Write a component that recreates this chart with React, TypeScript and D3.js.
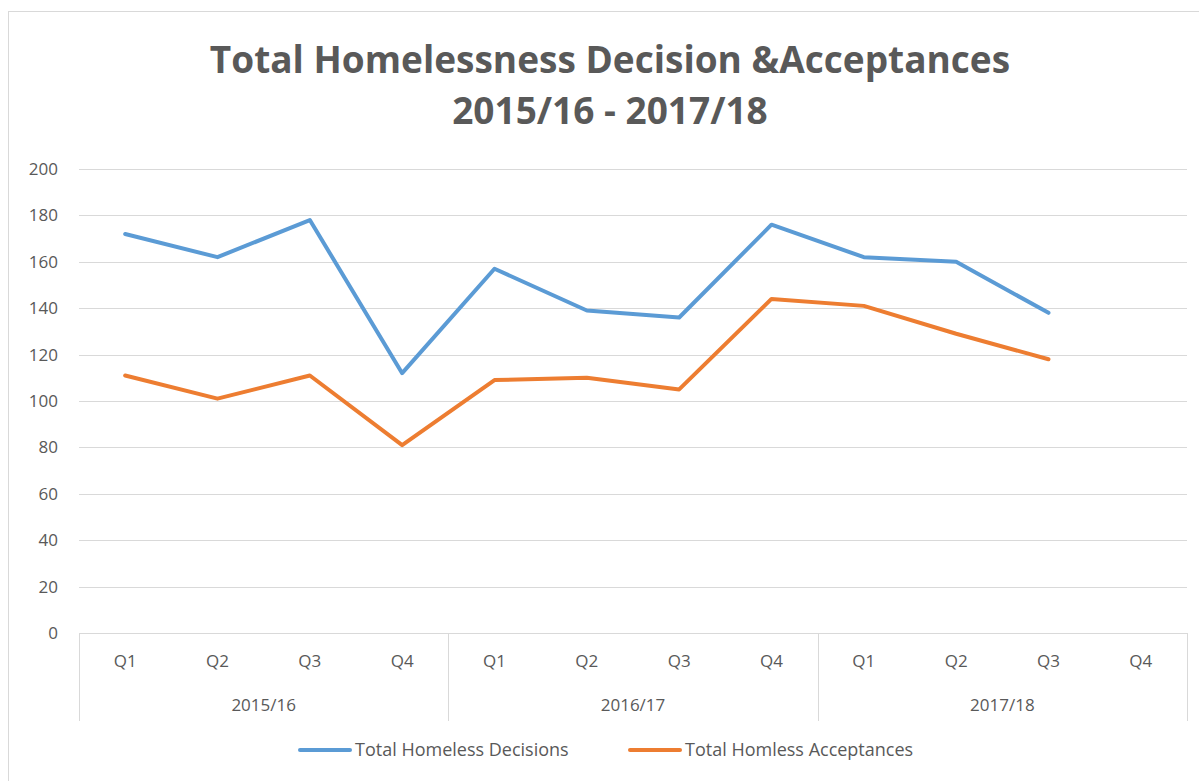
import * as d3 from "d3";

const years = ["2015/16", "2016/17", "2017/18"];
const quarters = ["Q1", "Q2", "Q3", "Q4"];
const decisions: (number | null)[] = [172, 162, 178, 112, 157, 139, 136, 176, 162, 160, 138, null];
const acceptances: (number | null)[] = [111, 101, 111, 81, 109, 110, 105, 144, 141, 129, 118, null];
const yTicks = [0, 20, 40, 60, 80, 100, 120, 140, 160, 180, 200];

const seriesNames = ["Total Homeless Decisions", "Total Homless Acceptances"];
const seriesColors = ["#5B9BD5", "#ED7D31"];

const W = 1199;
const H = 781;
const font = "'Open Sans', 'Noto Sans', sans-serif";
const textColor = "#595959";

export default function App() {
  const margin = { top: 169, right: 12, bottom: 148, left: 79 };

  // one key per quarter, e.g. "2015/16|Q1"
  const cats = years.flatMap((y) => quarters.map((q) => `${y}|${q}`));

  const x = d3
    .scaleBand<string>()
    .domain(cats)
    .range([margin.left, W - margin.right]);

  const y = d3
    .scaleLinear()
    .domain([0, 200])
    .range([H - margin.bottom, margin.top]);

  const line = d3
    .line<number | null>()
    .defined((d) => d !== null)
    .x((_, i) => (x(cats[i]) ?? 0) + x.bandwidth() / 2)
    .y((d) => y(d as number));

  const y0 = y(0);
  const yearW = x.bandwidth() * quarters.length;

  return (
    <svg
      width={W}
      height={H}
      style={{ position: "absolute", left: 0, top: 0, background: "#fff" }}
    >
      {/* chart border */}
      <rect x={8.5} y={11.5} width={W} height={H} fill="none" stroke="#d9d9d9" />

      <text
        x={610}
        y={73}
        textAnchor="middle"
        fontFamily={font}
        fontWeight="bold"
        fontSize={37}
        fill={textColor}
      >
        Total Homelessness Decision &amp;Acceptances
      </text>
      <text
        x={610}
        y={124}
        textAnchor="middle"
        fontFamily={font}
        fontWeight="bold"
        fontSize={37}
        fill={textColor}
      >
        2015/16 - 2017/18
      </text>

      {/* gridlines + y labels */}
      {yTicks.map((t) => (
        <g key={t}>
          <line
            x1={margin.left}
            x2={W - margin.right}
            y1={Math.round(y(t)) + 0.5}
            y2={Math.round(y(t)) + 0.5}
            stroke="#d9d9d9"
          />
          <text
            x={58}
            y={y(t)}
            dy="0.35em"
            textAnchor="end"
            fontFamily={font}
            fontSize={17}
            fill={textColor}
          >
            {t}
          </text>
        </g>
      ))}

      {/* category axis: year separators */}
      {d3.range(years.length + 1).map((i) => {
        const xx = Math.round(margin.left + i * yearW) + 0.5;
        return (
          <line key={i} x1={xx} x2={xx} y1={y0} y2={y0 + 88} stroke="#d9d9d9" />
        );
      })}

      {cats.map((c) => (
        <text
          key={c}
          x={(x(c) ?? 0) + x.bandwidth() / 2}
          y={667}
          textAnchor="middle"
          fontFamily={font}
          fontSize={17}
          fill={textColor}
        >
          {c.split("|")[1]}
        </text>
      ))}

      {years.map((yr, i) => (
        <text
          key={yr}
          x={margin.left + i * yearW + yearW / 2}
          y={711}
          textAnchor="middle"
          fontFamily={font}
          fontSize={17}
          fill={textColor}
        >
          {yr}
        </text>
      ))}

      {/* lines */}
      {[decisions, acceptances].map((s, i) => (
        <path
          key={i}
          d={line(s) ?? ""}
          fill="none"
          stroke={seriesColors[i]}
          strokeWidth={4}
          strokeLinejoin="round"
          strokeLinecap="round"
        />
      ))}

      {/* legend */}
      {[300, 630].map((lx, i) => (
        <g key={i}>
          <line
            x1={lx}
            x2={lx + 50}
            y1={750}
            y2={750}
            stroke={seriesColors[i]}
            strokeWidth={4}
            strokeLinecap="round"
          />
          <text
            x={lx + 55}
            y={750}
            dy="0.35em"
            fontFamily={font}
            fontSize={18}
            fill={textColor}
          >
            {seriesNames[i]}
          </text>
        </g>
      ))}
    </svg>
  );
}
